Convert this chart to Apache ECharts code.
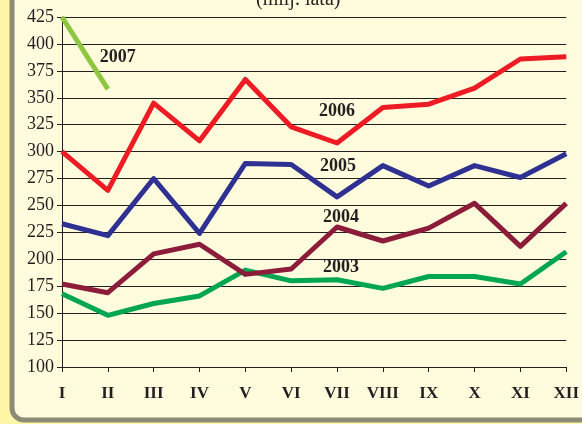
<!DOCTYPE html>
<html>
<head>
<meta charset="utf-8">
<script src="https://cdn.jsdelivr.net/npm/echarts@6/dist/echarts.min.js"></script>
<style>
  html, body { margin: 0; padding: 0; background: #FFF6A8; }
  #chart { width: 582px; height: 424px; }
</style>
</head>
<body>
<div id="chart"></div>
<script>
var months = ['I', 'II', 'III', 'IV', 'V', 'VI', 'VII', 'VIII', 'IX', 'X', 'XI', 'XII'];
var y2003 = [168, 148, 159, 166, 190, 180, 181, 173, 184, 184, 177, 207];
var y2004 = [177, 169, 205, 214, 186, 191, 230, 217, 229, 252, 212, 252];
var y2005 = [233, 222, 275, 224, 289, 288, 258, 287, 268, 287, 276, 298];
var y2006 = [300, 264, 345, 310, 367, 323, 308, 341, 344, 359, 386, 388];
var y2007 = [425, 358];

// label anchors [category, value] for the year captions
var yearLabels = {
  '2003': ['VII', 193],
  '2004': ['VII', 239],
  '2005': ['VII', 286],
  '2006': ['VII', 337],
  '2007': ['II', 388]
};
var labelShift = { '2003': 4, '2004': 4, '2005': 1, '2006': 0, '2007': 10 };

var serif = 'Liberation Serif';

function makeSeries(name, data, color) {
  return {
    name: name,
    type: 'line',
    data: data,
    symbol: 'none',
    lineStyle: { color: color, width: 5, join: 'round' },
    z: 3,
    markPoint: {
      symbol: 'circle',
      symbolSize: 0,
      label: {
        show: true,
        position: 'inside',
        offset: [labelShift[name], 0],
        formatter: name,
        fontFamily: serif,
        fontWeight: 'bold',
        fontSize: 18,
        color: '#231F20'
      },
      data: [{ coord: yearLabels[name] }]
    }
  };
}

var chart = echarts.init(document.getElementById('chart'));
chart.setOption({
  animation: false,
  backgroundColor: 'transparent',
  graphic: [
    {
      type: 'rect',
      z: -10,
      shape: { x: 12, y: -30, width: 620, height: 450, r: 12 },
      style: { fill: '#FFFBDD', stroke: '#8B8B78', lineWidth: 5 }
    },
    {
      type: 'text',
      left: 256,
      top: -10,
      style: { text: '(milj. lata)', font: '20px ' + serif, fill: '#231F20' }
    }
  ],
  grid: { left: 62, right: 11, top: 17, bottom: 57 },
  xAxis: {
    type: 'category',
    data: months,
    boundaryGap: false,
    axisLine: { lineStyle: { color: '#231F20', width: 1 } },
    axisTick: { show: true, length: 5, lineStyle: { color: '#231F20' } },
    axisLabel: {
      fontFamily: serif, fontWeight: 'bold', fontSize: 17, color: '#231F20',
      margin: 18, interval: 0
    },
    splitLine: { show: false }
  },
  yAxis: {
    type: 'value',
    min: 100, max: 425, interval: 25,
    axisLine: { show: true, lineStyle: { color: '#231F20', width: 1 } },
    axisTick: { show: true, length: 5, lineStyle: { color: '#231F20' } },
    axisLabel: { fontFamily: serif, fontSize: 18, color: '#231F20', margin: 8 },
    splitLine: { show: true, lineStyle: { color: '#231F20', width: 1 } }
  },
  series: [
    makeSeries('2003', y2003, '#00A651'),
    makeSeries('2004', y2004, '#8C1D3A'),
    makeSeries('2005', y2005, '#2E3192'),
    makeSeries('2006', y2006, '#ED1C24'),
    makeSeries('2007', y2007, '#8DC63F')
  ]
});
</script>
</body>
</html>
